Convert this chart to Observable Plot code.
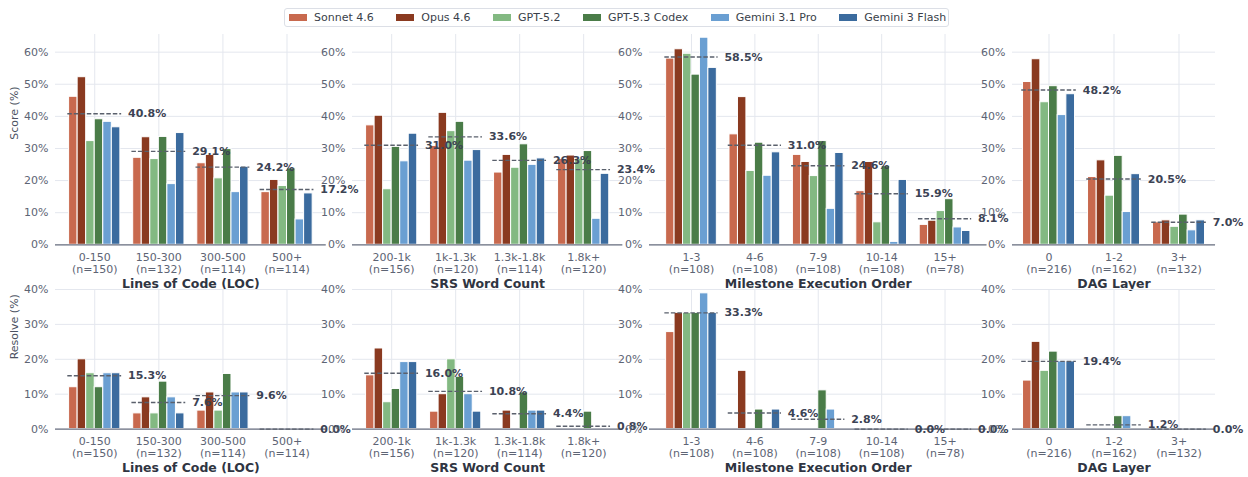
<!DOCTYPE html>
<html><head><meta charset="utf-8">
<script src="https://cdn.jsdelivr.net/npm/d3@7"></script>
<script src="https://cdn.jsdelivr.net/npm/@observablehq/plot@0.6"></script>
<style>
html,body{margin:0;padding:0;background:#fff;}
#chart{position:relative;width:1248px;height:477px;overflow:hidden;background:#fff;font-family:"DejaVu Sans",sans-serif;}
.legend{position:absolute;left:284px;top:8px;height:19px;width:665px;border:1px solid #dcdfe6;border-radius:3px;display:flex;align-items:center;box-sizing:border-box;padding-left:4px;font-size:11px;color:#3a3f4a;}
.item{display:flex;align-items:center;margin-right:22.5px;white-space:nowrap;}
.sw{width:18px;height:7px;margin-right:7px;}
</style></head><body><div id="chart"></div>
<script>
// ---- data ----
const models = ["Sonnet 4.6","Opus 4.6","GPT-5.2","GPT-5.3 Codex","Gemini 3.1 Pro","Gemini 3 Flash"];
const modelColors = ["#c8694e","#8a3a20","#83b982","#4a7c48","#6a9fd2","#3b6b9e"];

const locCats = ["0-150","150-300","300-500","500+"];
const locN = [150,132,114,114];
const srsCats = ["200-1k","1k-1.3k","1.3k-1.8k","1.8k+"];
const srsN = [156,120,114,120];
const msCats = ["1-3","4-6","7-9","10-14","15+"];
const msN = [108,108,108,108,78];
const dagCats = ["0","1-2","3+"];
const dagN = [216,162,132];

// Score (%): one row per category, one value per model
const locScore = [
  [46.1, 52.2, 32.3, 39.1, 38.3, 36.6],
  [27.1, 33.5, 26.7, 33.6, 18.9, 34.8],
  [25.4, 28.0, 20.7, 29.8, 16.4, 24.3],
  [16.4, 20.2, 18.3, 23.8, 7.9, 16.0]
];
const locScoreMean = [40.8, 29.1, 24.2, 17.2];
const srsScore = [
  [37.2, 40.2, 17.3, 30.5, 26.0, 34.6],
  [30.8, 41.1, 35.4, 38.3, 26.2, 29.5],
  [22.5, 28.0, 24.0, 31.3, 24.9, 26.9],
  [26.7, 27.8, 26.8, 29.2, 8.1, 22.1]
];
const srsScoreMean = [31.0, 33.6, 26.3, 23.4];
const msScore = [
  [58.0, 60.9, 59.5, 53.0, 64.5, 55.1],
  [34.4, 46.0, 23.0, 31.8, 21.5, 28.8],
  [28.0, 25.8, 21.4, 32.3, 11.2, 28.6],
  [16.7, 25.8, 7.0, 24.5, 0.9, 20.2],
  [6.2, 7.5, 10.5, 14.2, 5.4, 4.3]
];
const msScoreMean = [58.5, 31.0, 24.6, 15.9, 8.1];
const dagScore = [
  [50.7, 57.8, 44.4, 49.4, 40.4, 46.9],
  [21.1, 26.3, 15.3, 27.7, 10.2, 22.0],
  [7.0, 7.6, 5.6, 9.4, 4.5, 7.6]
];
const dagScoreMean = [48.2, 20.5, 7.0];

// Resolve (%)
const locRes = [
  [12.0, 20.0, 16.0, 12.0, 16.0, 16.0],
  [4.5, 9.1, 4.5, 13.6, 9.1, 4.5],
  [5.3, 10.5, 5.3, 15.8, 10.5, 10.5],
  [0, 0, 0, 0, 0, 0]
];
const locResMean = [15.3, 7.6, 9.6, 0.0];
const srsRes = [
  [15.4, 23.1, 7.7, 11.5, 19.2, 19.2],
  [5.0, 10.0, 20.0, 15.0, 10.0, 5.0],
  [0, 5.3, 0, 10.5, 5.3, 5.3],
  [0, 0, 0, 5.0, 0, 0]
];
const srsResMean = [16.0, 10.8, 4.4, 0.8];
const msRes = [
  [27.8, 33.3, 33.3, 33.3, 38.9, 33.3],
  [0, 16.7, 0, 5.6, 0, 5.6],
  [0, 0, 0, 11.1, 5.6, 0],
  [0, 0, 0, 0, 0, 0],
  [0, 0, 0, 0, 0, 0]
];
const msResMean = [33.3, 4.6, 2.8, 0.0, 0.0];
const dagRes = [
  [13.9, 25.0, 16.7, 22.2, 19.4, 19.4],
  [0, 0, 0, 3.7, 3.7, 0],
  [0, 0, 0, 0, 0, 0]
];
const dagResMean = [19.4, 1.2, 0.0];

const scoreTicks = [0,10,20,30,40,50,60];
const resTicks = [0,10,20,30,40];

// ---- layout ----
const panels = [
  {cats: locCats, n: locN, title: "Lines of Code (LOC)", vals: [locScore, locRes], means: [locScoreMean, locResMean]},
  {cats: srsCats, n: srsN, title: "SRS Word Count", vals: [srsScore, srsRes], means: [srsScoreMean, srsResMean]},
  {cats: msCats, n: msN, title: "Milestone Execution Order", vals: [msScore, msRes], means: [msScoreMean, msResMean]},
  {cats: dagCats, n: dagN, title: "DAG Layer", vals: [dagScore, dagRes], means: [dagScoreMean, dagResMean]}
];
const panelGeom = [
  {c0: 94.4, u: 64.1}, {c0: 391, u: 64}, {c0: 690.5, u: 63.4}, {c0: 1048.3, u: 65}
];
const rows = [
  {top: 33.7, bottom: 244, ymax: 65.5, ticks: scoreTicks, label: "Score (%)"},
  {top: 289.4, bottom: 429, ymax: 40, ticks: resTicks, label: "Resolve (%)"}
];

const BW = 0.8 / 6;
const ML = 50, MR = 10, MT = 8, MB = 50;
const tickColor = "#5d6474", titleColor = "#2f3542", meanColor = "#3c4354";
const chart = document.getElementById("chart");

// legend
const leg = document.createElement("div");
leg.className = "legend";
models.forEach((m, j) => {
  const it = document.createElement("div"); it.className = "item";
  const sw = document.createElement("div"); sw.className = "sw"; sw.style.background = modelColors[j];
  const tx = document.createElement("span"); tx.textContent = m;
  it.appendChild(sw); it.appendChild(tx); leg.appendChild(it);
});
chart.appendChild(leg);

rows.forEach((row, r) => {
  panels.forEach((p, pi) => {
    const g = panelGeom[pi];
    const nc = p.cats.length;
    const m = 0.42 + 0.05 * (nc - 0.16);
    const left = g.c0 - m * g.u, right = g.c0 + (nc - 1 + m) * g.u;
    const w = right - left, h = row.bottom - row.top;
    const bars = p.vals[r].flatMap((rv, i) => rv.map((v, j) => ({i, j, v, model: models[j]}))).filter(d => d.v > 0);
    const means = p.means[r].map((v, i) => ({i, v}));
    const labels = p.cats.map((c, i) => ({i, t: c + "\n(n=" + p.n[i] + ")"}));
    const idx = p.cats.map((c, i) => i);
    const marks = [
      Plot.ruleY(row.ticks, {stroke: "#e4e7ee", strokeWidth: 1}),
      Plot.ruleX(idx, {stroke: "#e4e7ee", strokeWidth: 1}),
      Plot.text(row.ticks, {y: d => d, text: d => d + "%", frameAnchor: "left", dx: -7, textAnchor: "end", fontSize: 11, fill: tickColor}),
      Plot.rectY(bars, {x1: d => d.i - 0.4 + d.j * BW, x2: d => d.i - 0.4 + (d.j + 1) * BW, y1: 0, y2: "v", fill: "model", stroke: "white", strokeWidth: 1}),
      Plot.ruleY([0], {stroke: "#6b7180", strokeWidth: 1.2}),
      Plot.ruleY(means, {x1: d => d.i - 0.42, x2: d => d.i + 0.42, y: "v", stroke: "#5a606c", strokeWidth: 1.4, strokeDasharray: "4.5,2"}),
      Plot.text(means, {x: d => d.i + 0.52, y: "v", text: d => d.v.toFixed(1) + "%", textAnchor: "start", fontSize: 11, fontWeight: "bold", fill: meanColor}),
      Plot.text(labels, {x: "i", text: "t", frameAnchor: "bottom", lineAnchor: "top", dy: 7.5, lineHeight: 1.1, fontSize: 11, fill: tickColor}),
      Plot.text([p.title], {frameAnchor: "bottom", lineAnchor: "top", dy: 34, fontSize: 12.5, fontWeight: "bold", fill: titleColor})
    ];
    if (pi === 0) marks.push(Plot.text([row.label], {frameAnchor: "left", rotate: -90, dx: -41, fontSize: 11, fill: "#4b5262"}));
    const svg = Plot.plot({
      width: w + ML + MR, height: h + MT + MB,
      marginLeft: ML, marginRight: MR, marginTop: MT, marginBottom: MB,
      style: `position:absolute;left:${left - ML}px;top:${row.top - MT}px;background:transparent;overflow:visible;font-family:'DejaVu Sans',sans-serif;max-width:none;`,
      x: {domain: [-m, nc - 1 + m], axis: null},
      y: {domain: [0, row.ymax], axis: null},
      color: {domain: models, range: modelColors},
      marks
    });
    chart.appendChild(svg);
  });
});
</script></body></html>
